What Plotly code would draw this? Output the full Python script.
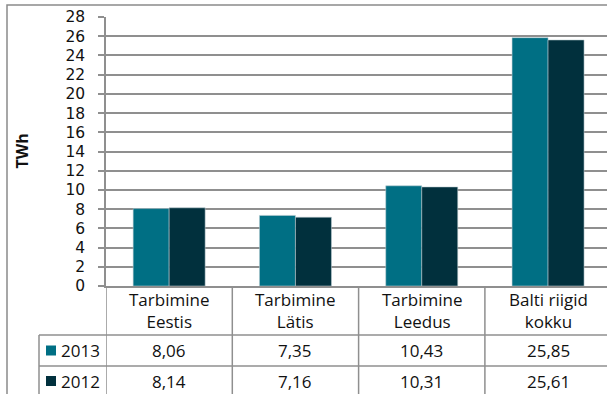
import plotly.graph_objects as go

categories = ["Tarbimine<br>Eestis", "Tarbimine<br>Lätis", "Tarbimine<br>Leedus", "Balti riigid<br>kokku"]
series_names = ["2013", "2012"]
values_2013 = [8.06, 7.35, 10.43, 25.85]
values_2012 = [8.14, 7.16, 10.31, 25.61]
y_ticks = list(range(0, 29, 2))

colors = ["#006F84", "#01303D"]
GRID = "#8f8f8f"
FONT = "Open Sans"
TXT = "#111111"

W, H = 607, 394
L, R, T, B = 106, 0, 17, 108
PW, PH = W - L - R, H - T - B
Y0 = H - B  # pixel of y=0


def px(x):
    return (x - L) / PW


def py(y):
    return (Y0 - y) / PH


xs = list(range(len(categories)))
fig = go.Figure()
for name, vals, col in zip(series_names, [values_2013, values_2012], colors):
    fig.add_trace(go.Bar(
        x=xs, y=vals, name=name, marker_color=col,
        marker_line=dict(color="rgba(190,205,210,0.7)", width=0.8),
        showlegend=False,
    ))

shapes = []
annotations = []

# outer chart border
shapes.append(dict(type="rect", xref="paper", yref="paper",
                   x0=px(7), x1=px(640), y0=py(5), y1=py(430),
                   line=dict(color="#8a8a8a", width=1.5)))

# table vertical lines at category boundaries
for i in range(len(categories) + 1):
    shapes.append(dict(type="line", xref="x", yref="paper",
                       x0=i - 0.5, x1=i - 0.5, y0=py(286), y1=py(400),
                       line=dict(color=GRID, width=1.5)))
# legend column left border
shapes.append(dict(type="line", xref="paper", yref="paper",
                   x0=px(39), x1=px(39), y0=py(335), y1=py(400),
                   line=dict(color=GRID, width=1.5)))
# horizontal table lines
for yy in [335, 366]:
    shapes.append(dict(type="line", xref="paper", yref="paper",
                       x0=px(39), x1=px(620), y0=py(yy), y1=py(yy),
                       line=dict(color=GRID, width=1.5)))

# category labels
for i, c in enumerate(categories):
    annotations.append(dict(x=i, y=py(310), xref="x", yref="paper", text=c,
                            showarrow=False, xanchor="center", yanchor="middle",
                            font=dict(family=FONT, size=17, color=TXT)))

# rows of the data table
row_y = [350.5, 381]
for r, (name, vals, col) in enumerate(zip(series_names, [values_2013, values_2012], colors)):
    shapes.append(dict(type="rect", xref="paper", yref="paper",
                       x0=px(46), x1=px(56), y0=py(row_y[r] - 5), y1=py(row_y[r] + 5),
                       fillcolor=col, line=dict(width=0)))
    annotations.append(dict(x=px(59), y=py(row_y[r]), xref="paper", yref="paper",
                            text=name, showarrow=False, xanchor="left", yanchor="middle",
                            font=dict(family=FONT, size=17, color=TXT)))
    for i, v in enumerate(vals):
        annotations.append(dict(x=i, y=py(row_y[r]), xref="x", yref="paper",
                                text=f"{v:.2f}".replace(".", ","), showarrow=False,
                                xanchor="center", yanchor="middle",
                                font=dict(family=FONT, size=17, color=TXT)))

# y-axis title
annotations.append(dict(x=px(21), y=0.5, xref="paper", yref="paper", text="<b>TWh</b>",
                        textangle=-90, showarrow=False, xanchor="center", yanchor="middle",
                        font=dict(family=FONT, size=16, color=TXT)))

fig.update_layout(
    width=W, height=H,
    margin=dict(l=L, r=R, t=T, b=B, pad=0),
    paper_bgcolor="white", plot_bgcolor="white",
    barmode="group", bargap=0.43, bargroupgap=0,
    shapes=shapes, annotations=annotations,
    font=dict(family=FONT, size=17, color=TXT),
    xaxis=dict(range=[-0.5, -0.5 + PW / 126.3], showticklabels=False, showgrid=False,
               showline=True, linecolor=GRID, linewidth=1.5, zeroline=False, ticks=""),
    yaxis=dict(range=[0, 28], tickvals=y_ticks, ticktext=[str(t) for t in y_ticks],
               showgrid=True, gridcolor=GRID, gridwidth=1.5,
               showline=True, linecolor=GRID, linewidth=1.5,
               ticks="outside", ticklen=6, tickcolor=GRID, tickwidth=1.5,
               ticklabelstandoff=10, zeroline=False,
               tickfont=dict(family="DejaVu Sans", size=15.5, color=TXT)),
)

fig.write_html("out.html")
